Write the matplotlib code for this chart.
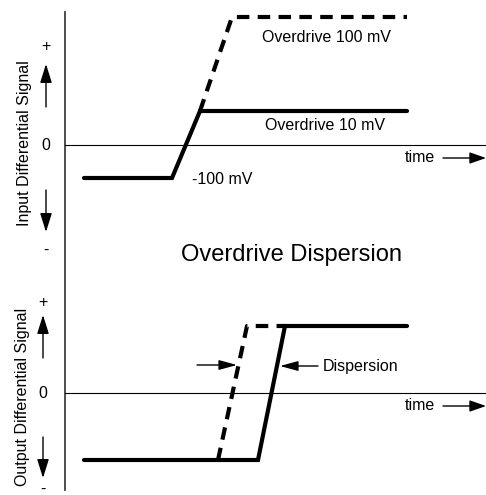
import matplotlib.pyplot as plt
from matplotlib.patches import FancyArrowPatch

plt.rcParams['font.family'] = ['Liberation Sans', 'DejaVu Sans']

# waveform corners, in drawing units (x = time, y = level, y grows downwards)
in_slow_t = [84, 172, 200, 407]      # input, overdrive 10 mV (solid)
in_slow_v = [178, 178, 111, 111]
in_fast_t = [200, 232, 407]          # input, overdrive 100 mV (dashed)
in_fast_v = [111, 17, 17]
out_slow_t = [84, 258, 285, 407]     # output for 10 mV overdrive (solid)
out_slow_v = [460, 460, 326, 326]
out_fast_t = [218, 247, 285]         # output for 100 mV overdrive (dashed)
out_fast_v = [460, 326, 326]

zero_in = 145
zero_out = 393

fig = plt.figure(figsize=(4.86, 4.95), dpi=100)
ax = fig.add_axes([0, 0, 1, 1])
ax.set_xlim(0, 486)
ax.set_ylim(495, 0)
ax.axis('off')

def arrow(p0, p1, hl, hw, lw=1.0):
    a = FancyArrowPatch(p0, p1, arrowstyle='-|>,head_length=%g,head_width=%g' % (hl, hw),
                        mutation_scale=10, color='black', lw=lw, shrinkA=0, shrinkB=0)
    ax.add_patch(a)

# axes lines
ax.plot([65, 65], [12, 490], color='#404040', lw=1.3)
ax.plot([65, 486], [zero_in, zero_in], color='black', lw=0.8)
ax.plot([65, 486], [zero_out, zero_out], color='black', lw=0.8)

# waveforms
ax.plot(in_slow_t, in_slow_v, color='black', lw=3, solid_capstyle='round', solid_joinstyle='miter')
ax.plot(in_fast_t, in_fast_v, color='black', lw=3, dashes=(3, 2), dash_capstyle='butt')
ax.plot(out_slow_t, out_slow_v, color='black', lw=3, solid_capstyle='round', solid_joinstyle='miter')
ax.plot(out_fast_t, out_fast_v, color='black', lw=3, dashes=(3, 2), dash_capstyle='butt')

fs = 11.5
# top labels
ax.text(326, 37, 'Overdrive 100 mV', fontsize=fs, ha='center', va='center')
ax.text(325, 125, 'Overdrive 10 mV', fontsize=fs, ha='center', va='center')
ax.text(192, 180, '-100 mV', fontsize=fs, ha='left', va='center')
ax.text(405, 158, 'time', fontsize=fs, ha='left', va='center')
arrow((443, 158), (486, 158), 1.0, 0.35)

ax.text(291, 255, 'Overdrive Dispersion', fontsize=17, ha='center', va='center')

# left side, input
ax.text(25, 143, 'Input Differential Signal', fontsize=fs, rotation=90, ha='center', va='center')
ax.text(46, 47, '+', fontsize=fs, ha='center', va='center')
ax.text(46, 145, '0', fontsize=fs, ha='center', va='center')
ax.text(46, 250, '-', fontsize=fs, ha='center', va='center')
arrow((46, 107), (46, 64), 1.15, 0.36)
arrow((46, 190), (46, 232), 1.15, 0.36)

# left side, output
ax.text(22, 397, 'Output Differential Signal', fontsize=fs, rotation=90, ha='center', va='center')
ax.text(43, 302, '+', fontsize=fs, ha='center', va='center')
ax.text(43, 393, '0', fontsize=fs, ha='center', va='center')
ax.text(43, 489, '-', fontsize=fs, ha='center', va='center')
arrow((43, 358), (43, 315), 1.15, 0.36)
arrow((43, 437), (43, 478), 1.15, 0.36)

# dispersion markers
arrow((197, 365), (237, 365), 1.1, 0.3)
arrow((318, 366), (280, 366), 1.1, 0.3)
ax.text(323, 367, 'Dispersion', fontsize=fs, ha='left', va='center')
ax.text(405, 406, 'time', fontsize=fs, ha='left', va='center')
arrow((443, 406), (486, 406), 1.0, 0.35)

fig.savefig('out.png', dpi=100)
